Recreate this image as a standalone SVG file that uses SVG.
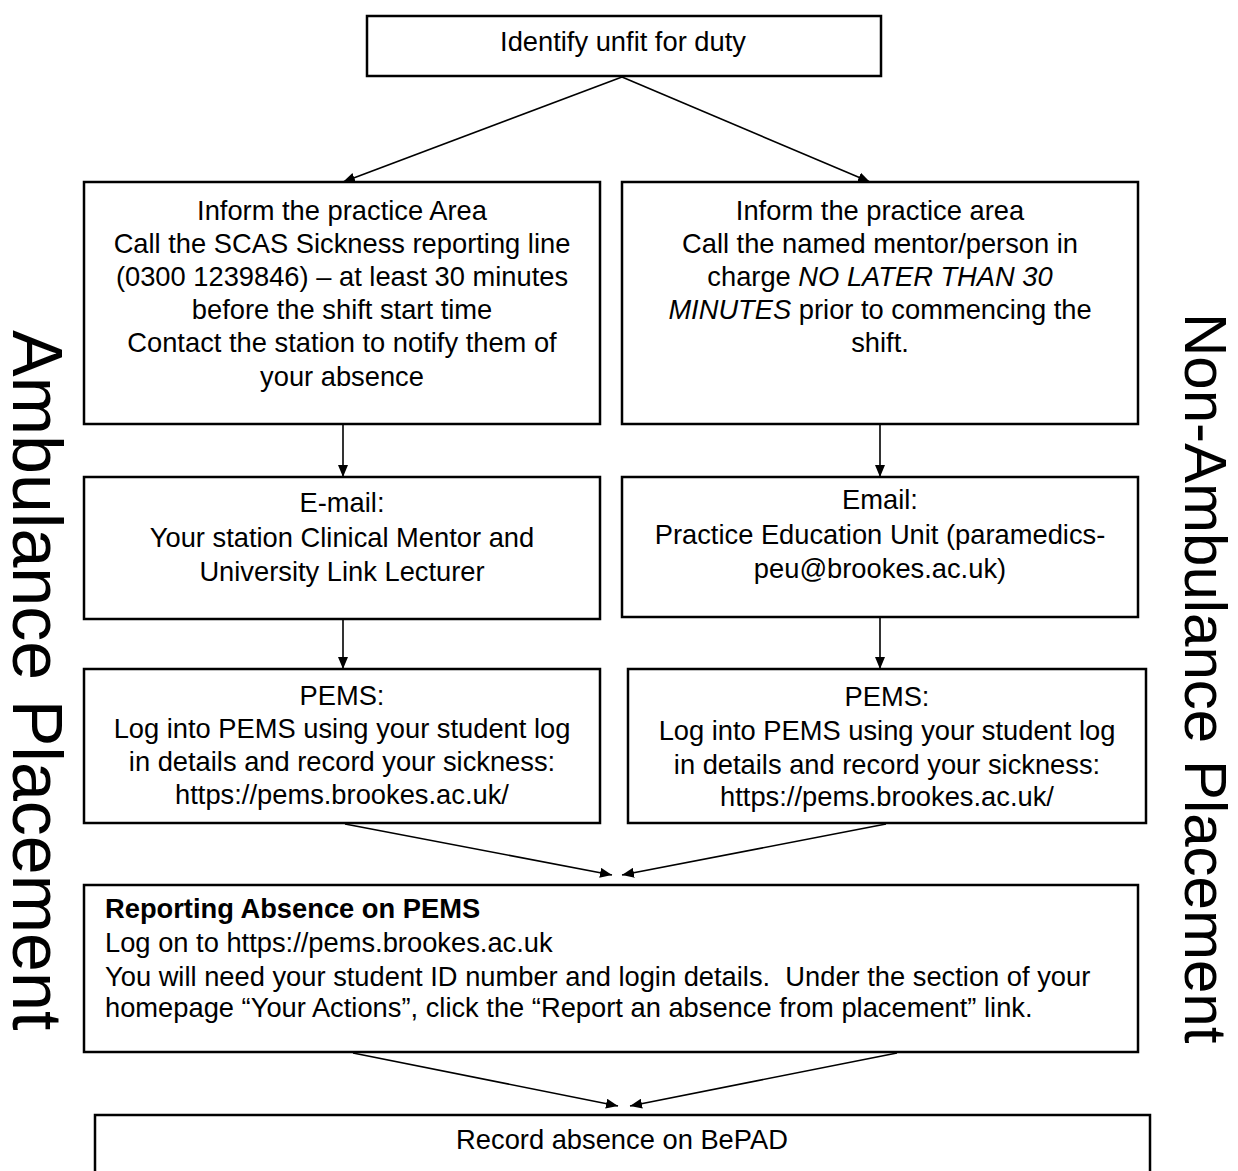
<svg xmlns="http://www.w3.org/2000/svg" width="1238" height="1171" viewBox="0 0 1238 1171">
<defs>
<marker id="ah" markerUnits="userSpaceOnUse" markerWidth="12" markerHeight="10" refX="12" refY="5" orient="auto">
<path d="M0,0 L12,5 L0,10 Z" fill="#000"/>
</marker>
<style>
.box{fill:#fff;stroke:#000;stroke-width:2.5}
.t{font-family:"Liberation Sans",Arial,sans-serif;font-size:27.3px;fill:#000}
.c{text-anchor:middle}
.b{font-weight:bold}
.i{font-style:italic}
.side{font-family:"Liberation Sans",Arial,sans-serif;fill:#000}
.con{fill:none;stroke:#000;stroke-width:1.6;marker-end:url(#ah)}
</style>
</defs>
<rect width="1238" height="1171" fill="#fff"/>

<g id="label-ambulance">
<text class="side" font-size="70" transform="translate(13,330) rotate(90)">Ambulance Placement</text>
</g>
<g id="label-non-ambulance">
<text class="side" font-size="60" transform="translate(1185,313) rotate(90)">Non-Ambulance Placement</text>
</g>

<g id="connectors">
<line class="con" x1="622" y1="77" x2="343" y2="182"/>
<line class="con" x1="622" y1="77" x2="870" y2="182"/>
<line class="con" x1="343" y1="424" x2="343" y2="477"/>
<line class="con" x1="880" y1="424" x2="880" y2="477"/>
<line class="con" x1="343" y1="619" x2="343" y2="669"/>
<line class="con" x1="880" y1="617" x2="880" y2="669"/>
<line class="con" x1="345" y1="824" x2="612" y2="875"/>
<line class="con" x1="886" y1="824" x2="622" y2="875"/>
<line class="con" x1="353" y1="1053" x2="618" y2="1106"/>
<line class="con" x1="897" y1="1053" x2="630" y2="1106"/>
</g>

<g id="n-identify">
<rect class="box" x="367" y="16" width="514" height="60"/>
<text class="t c" x="623" y="51">Identify unfit for duty</text>
</g>

<g id="n-amb-inform">
<rect class="box" x="84" y="182" width="516" height="242"/>
<text class="t c" x="342" y="220">Inform the practice Area</text>
<text class="t c" x="342" y="253">Call the SCAS Sickness reporting line</text>
<text class="t c" x="342" y="286">(0300 1239846) – at least 30 minutes</text>
<text class="t c" x="342" y="319">before the shift start time</text>
<text class="t c" x="342" y="352">Contact the station to notify them of</text>
<text class="t c" x="342" y="386">your absence</text>
</g>

<g id="n-non-inform">
<rect class="box" x="622" y="182" width="516" height="242"/>
<text class="t c" x="880" y="220">Inform the practice area</text>
<text class="t c" x="880" y="253">Call the named mentor/person in</text>
<text class="t c" x="880" y="286">charge <tspan class="i">NO LATER THAN 30</tspan></text>
<text class="t c" x="880" y="319"><tspan class="i">MINUTES</tspan> prior to commencing the</text>
<text class="t c" x="880" y="352">shift.</text>
</g>

<g id="n-amb-email">
<rect class="box" x="84" y="477" width="516" height="142"/>
<text class="t c" x="342" y="512">E-mail:</text>
<text class="t c" x="342" y="547">Your station Clinical Mentor and</text>
<text class="t c" x="342" y="581">University Link Lecturer</text>
</g>

<g id="n-non-email">
<rect class="box" x="622" y="477" width="516" height="140"/>
<text class="t c" x="880" y="509">Email:</text>
<text class="t c" x="880" y="544">Practice Education Unit (paramedics-</text>
<text class="t c" x="880" y="578">peu@brookes.ac.uk)</text>
</g>

<g id="n-amb-pems">
<rect class="box" x="84" y="669" width="516" height="154"/>
<text class="t c" x="342" y="705">PEMS:</text>
<text class="t c" x="342" y="738">Log into PEMS using your student log</text>
<text class="t c" x="342" y="771">in details and record your sickness:</text>
<text class="t c" x="342" y="804">https://pems.brookes.ac.uk/</text>
</g>

<g id="n-non-pems">
<rect class="box" x="628" y="669" width="518" height="154"/>
<text class="t c" x="887" y="706">PEMS:</text>
<text class="t c" x="887" y="740">Log into PEMS using your student log</text>
<text class="t c" x="887" y="774">in details and record your sickness:</text>
<text class="t c" x="887" y="806">https://pems.brookes.ac.uk/</text>
</g>

<g id="n-reporting">
<rect class="box" x="84" y="885" width="1054" height="167"/>
<text class="t b" x="105" y="918">Reporting Absence on PEMS</text>
<text class="t" x="105" y="952">Log on to https://pems.brookes.ac.uk</text>
<text class="t" x="105" y="986" xml:space="preserve">You will need your student ID number and login details.  Under the section of your</text>
<text class="t" x="105" y="1017">homepage “Your Actions”, click the “Report an absence from placement” link.</text>
</g>

<g id="n-bepad">
<rect class="box" x="95" y="1115" width="1055" height="80"/>
<text class="t c" x="622" y="1149">Record absence on BePAD</text>
</g>
</svg>
